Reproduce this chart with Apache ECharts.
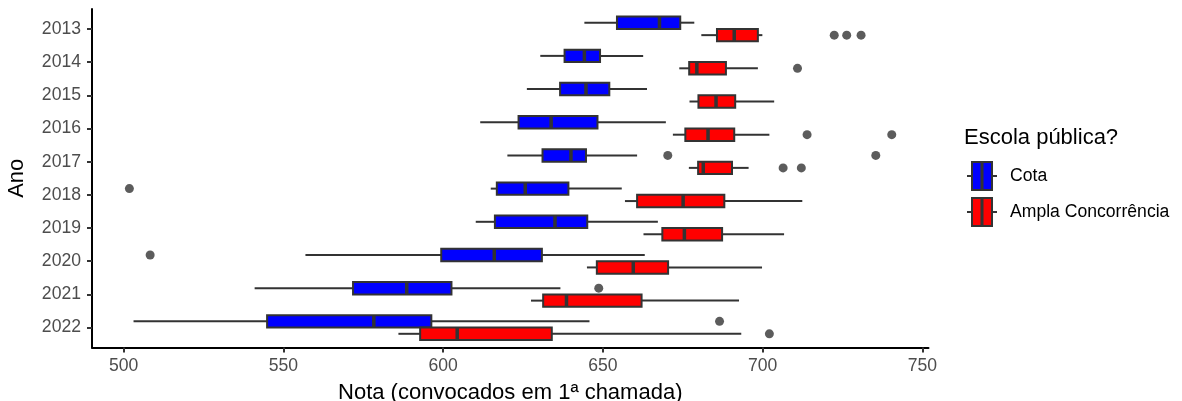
<!DOCTYPE html>
<html>
<head>
<meta charset="utf-8">
<script src="https://cdn.jsdelivr.net/npm/echarts@6/dist/echarts.min.js"></script>
<style>
  html, body { margin: 0; padding: 0; background: #ffffff; }
  #chart { width: 1182px; height: 401px; }
</style>
</head>
<body>
<div id="chart"></div>
<script>
// Years on the vertical axis (top to bottom)
const years = ['2013', '2014', '2015', '2016', '2017', '2018', '2019', '2020', '2021', '2022'];

// Box statistics per year: [lower whisker, Q1, median, Q3, upper whisker]
const cotaStats = [
  [644.2, 654.4, 667.7, 674.2, 678.6],
  [630.4, 638.0, 644.2, 649.1, 662.6],
  [626.2, 636.6, 644.7, 652.0, 663.8],
  [611.6, 623.6, 633.8, 648.3, 669.7],
  [620.1, 631.1, 640.0, 644.7, 660.7],
  [614.9, 616.8, 625.7, 639.2, 655.9],
  [610.2, 616.2, 635.0, 645.1, 667.2],
  [556.9, 599.4, 616.0, 630.9, 663.1],
  [541.0, 571.8, 588.6, 602.6, 636.7],
  [503.1, 544.9, 578.3, 596.3, 645.8]
];
const amplaStats = [
  [680.8, 685.7, 691.1, 698.5, 699.9],
  [673.9, 677.0, 679.4, 688.5, 698.5],
  [677.1, 679.9, 685.4, 691.4, 703.6],
  [671.9, 675.8, 682.9, 691.1, 702.1],
  [676.9, 679.8, 681.4, 690.4, 695.6],
  [656.9, 660.7, 675.1, 688.0, 712.4],
  [662.7, 668.6, 675.5, 687.3, 706.7],
  [645.0, 648.1, 659.5, 670.4, 699.8],
  [627.5, 631.3, 638.6, 662.1, 692.6],
  [586.0, 592.8, 604.4, 634.0, 693.3]
];

// Outlying scores: [year, score]
const cotaOutliers = [
  ['2017', 670.3], ['2017', 735.4], ['2018', 501.8],
  ['2020', 508.3], ['2021', 648.7], ['2022', 686.5]
];
const amplaOutliers = [
  ['2013', 722.4], ['2013', 726.3], ['2013', 730.8],
  ['2014', 710.9], ['2016', 713.9], ['2016', 740.4],
  ['2017', 706.4], ['2017', 712.1], ['2022', 702.1]
];

const xTicks = [500, 550, 600, 650, 700, 750];
const groupNames = ['Cota', 'Ampla Concorrência'];
const groupColors = ['#0000FF', '#FF0000'];

// Dodge layout: each year band holds two boxes side by side
const BOX_W = 0.375;
const DODGE = [-0.1875, 0.1875];
const INK = '#333333';
const FONT = '"Liberation Sans", Arial, Helvetica, sans-serif';

function boxData(stats) {
  return stats.map((s, i) => [i + 1].concat(s));
}
function outlierData(list, off) {
  return list.map(([yr, v]) => [v, years.indexOf(yr) + 1 + off]);
}

function boxRenderer(offset, color) {
  return function (params, api) {
    const pos = api.value(0) + offset;
    const pLo = api.coord([api.value(1), pos]);
    const pQ1 = api.coord([api.value(2), pos]);
    const pMed = api.coord([api.value(3), pos]);
    const pQ3 = api.coord([api.value(4), pos]);
    const pHi = api.coord([api.value(5), pos]);
    const h = api.size([0, BOX_W])[1];
    const y = pQ1[1];
    const whisker = { stroke: INK, lineWidth: 2 };
    return {
      type: 'group',
      children: [
        { type: 'line', shape: { x1: pLo[0], y1: y, x2: pQ1[0], y2: y }, style: whisker },
        { type: 'line', shape: { x1: pQ3[0], y1: y, x2: pHi[0], y2: y }, style: whisker },
        { type: 'rect', shape: { x: pQ1[0], y: y - h / 2, width: pQ3[0] - pQ1[0], height: h },
          style: { fill: color, stroke: INK, lineWidth: 2 } },
        { type: 'line', shape: { x1: pMed[0], y1: y - h / 2, x2: pMed[0], y2: y + h / 2 },
          style: { stroke: INK, lineWidth: 3.5 } }
      ]
    };
  };
}

// Legend keys drawn as miniature boxes
function legendKey(cx, cy, color) {
  return [
    { type: 'line', shape: { x1: cx - 15, y1: cy, x2: cx + 15, y2: cy }, style: { stroke: INK, lineWidth: 2 } },
    { type: 'rect', shape: { x: cx - 10, y: cy - 14, width: 20, height: 28 },
      style: { fill: color, stroke: INK, lineWidth: 2 } },
    { type: 'line', shape: { x1: cx, y1: cy - 14, x2: cx, y2: cy + 14 }, style: { stroke: INK, lineWidth: 3 } }
  ];
}

const legendGraphics = [
  { type: 'text', left: 964, top: 127,
    style: { text: 'Escola pública?', font: '22px ' + FONT, fill: '#000000' } }
];
groupNames.forEach((name, i) => {
  const cy = 176 + i * 36;
  legendGraphics.push(...legendKey(982, cy, groupColors[i]));
  legendGraphics.push({ type: 'text', x: 1010, y: cy,
    style: { text: name, font: '17.6px ' + FONT, fill: '#000000', verticalAlign: 'middle', align: 'left' } });
});

const chart = echarts.init(document.getElementById('chart'), null, { renderer: 'canvas' });
chart.setOption({
  animation: false,
  backgroundColor: '#ffffff',
  grid: { left: 92, right: 253.5, top: 9, bottom: 53.5, containLabel: false, outerBoundsMode: 'none' },
  xAxis: {
    type: 'value',
    min: 490.1,
    max: 751.9,
    name: 'Nota (convocados em 1ª chamada)',
    nameLocation: 'middle',
    nameGap: 34,
    nameTextStyle: { fontSize: 22, color: '#000000', fontFamily: FONT },
    axisLine: { show: true, onZero: false, lineStyle: { color: '#000000', width: 2 } },
    axisTick: { show: true, length: 5, customValues: xTicks, lineStyle: { color: INK, width: 2 } },
    axisLabel: { customValues: xTicks, fontSize: 17.6, color: '#4D4D4D', fontFamily: FONT, margin: 10 },
    splitLine: { show: false }
  },
  yAxis: {
    type: 'value',
    inverse: true,
    min: 0.4,
    max: 10.6,
    name: 'Ano',
    nameLocation: 'middle',
    nameGap: 64,
    nameRotate: 90,
    nameTextStyle: { fontSize: 22, color: '#000000', fontFamily: FONT },
    axisLine: { show: true, onZero: false, lineStyle: { color: '#000000', width: 2 } },
    axisTick: { show: true, length: 5, customValues: years.map((y, i) => i + 1), lineStyle: { color: INK, width: 2 } },
    axisLabel: {
      customValues: years.map((y, i) => i + 1),
      formatter: v => years[Math.round(v) - 1],
      fontSize: 17.6, color: '#4D4D4D', fontFamily: FONT, margin: 11,
      padding: [3, 0, 0, 0]
    },
    splitLine: { show: false }
  },
  graphic: legendGraphics,
  series: [
    { type: 'scatter', name: groupNames[0] + ' outliers', data: outlierData(cotaOutliers, DODGE[0]),
      symbol: 'circle', symbolSize: 9, itemStyle: { color: INK }, silent: true, z: 1 },
    { type: 'scatter', name: groupNames[1] + ' outliers', data: outlierData(amplaOutliers, DODGE[1]),
      symbol: 'circle', symbolSize: 9, itemStyle: { color: INK }, silent: true, z: 1 },
    { type: 'custom', name: groupNames[0], data: boxData(cotaStats),
      encode: { x: [1, 2, 3, 4, 5], y: 0 }, renderItem: boxRenderer(DODGE[0], groupColors[0]), z: 2 },
    { type: 'custom', name: groupNames[1], data: boxData(amplaStats),
      encode: { x: [1, 2, 3, 4, 5], y: 0 }, renderItem: boxRenderer(DODGE[1], groupColors[1]), z: 2 }
  ]
});
</script>
</body>
</html>
